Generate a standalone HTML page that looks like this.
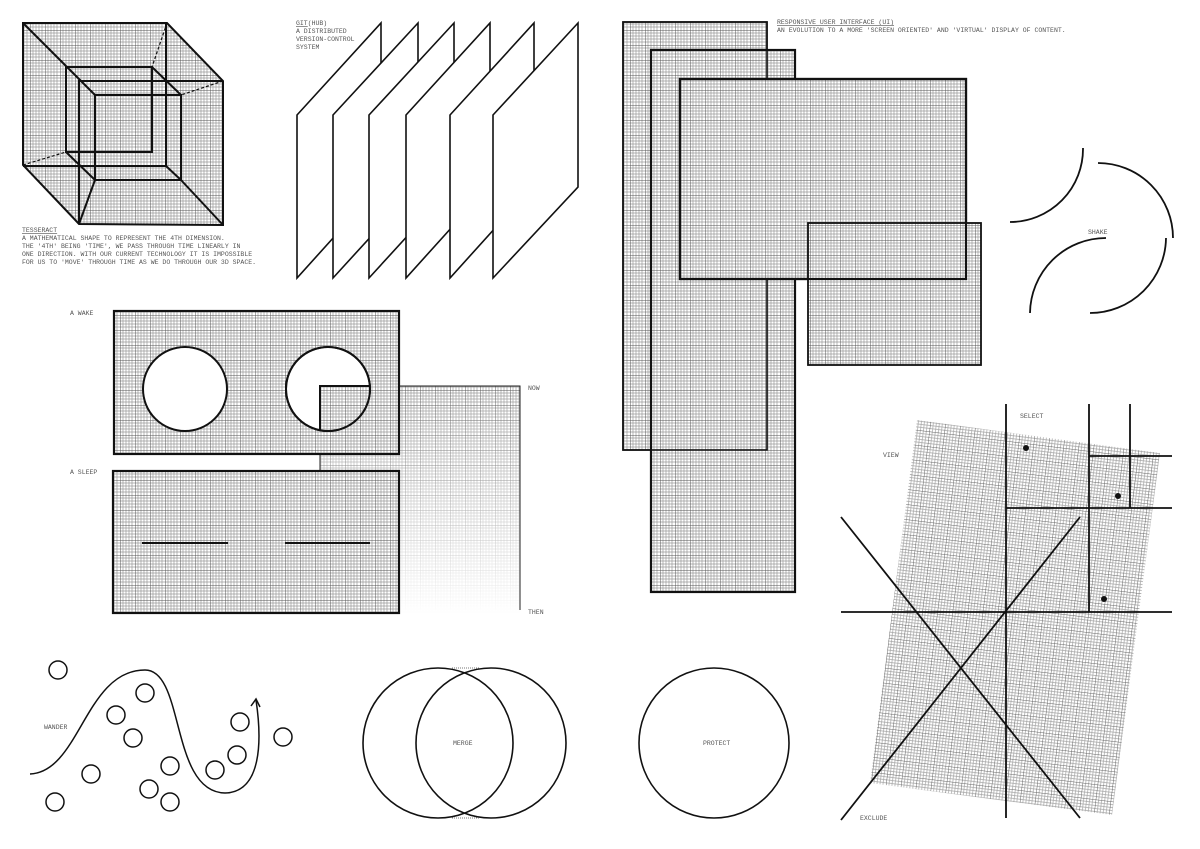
<!DOCTYPE html>
<html><head><meta charset="utf-8"><style>
html,body{margin:0;padding:0;background:#fff;}
svg{display:block;}
text{font-family:"Liberation Mono",monospace;font-size:6.5px;fill:#555;}
</style></head><body>
<svg width="1200" height="849" viewBox="0 0 1200 849" xmlns="http://www.w3.org/2000/svg">
<defs>
<pattern id="g" width="15" height="15" patternUnits="userSpaceOnUse">
<rect width="15" height="15" fill="#fff"/>
<path d="M3 0V15M6 0V15M9 0V15M12 0V15M0 3H15M0 6H15M0 9H15M0 12H15" stroke="#9a9a9a" stroke-width="0.7"/>
<path d="M0 0V15M0 0H15" stroke="#555" stroke-width="1"/>
</pattern>
<pattern id="gt" width="15" height="15" patternUnits="userSpaceOnUse" patternTransform="rotate(7)">
<rect width="15" height="15" fill="#fff"/>
<path d="M3 0V15M6 0V15M9 0V15M12 0V15M0 3H15M0 6H15M0 9H15M0 12H15" stroke="#a5a5a5" stroke-width="0.7"/>
<path d="M0 0V15M0 0H15" stroke="#666" stroke-width="1"/>
</pattern>
<linearGradient id="fade" x1="0" y1="0" x2="0" y2="1">
<stop offset="0" stop-color="#fff" stop-opacity="0"/>
<stop offset="1" stop-color="#fff" stop-opacity="1"/>
</linearGradient>
</defs>

<!-- Tesseract -->
<polygon points="23,23 167,23 223,81 223,225 79,224 23,165" fill="url(#g)"/>
<g fill="none" stroke="#111" stroke-width="2">
<path d="M23 23H167L223 81V225L79 224L23 165Z"/>
<path d="M166 23V166H23"/>
<path d="M79 224V81H223"/>
<path d="M23 23L95 95M166 166L181 180M79 224L95 180M223 225L181 180"/>
<rect x="66" y="67" width="86" height="85"/>
<rect x="95" y="95" width="86" height="85"/>
<path d="M152 67L181 95M66 152L95 180"/>
</g>
<g fill="none" stroke="#111" stroke-width="1.2" stroke-dasharray="3 2">
<path d="M167 23L152 67M223 81L181 95M23 165L66 152"/>
</g>
<text x="22" y="232" text-decoration="underline">TESSERACT</text>
<text x="22" y="240">A MATHEMATICAL SHAPE TO REPRESENT THE 4TH DIMENSION.</text>
<text x="22" y="248">THE '4TH' BEING 'TIME', WE PASS THROUGH TIME LINEARLY IN</text>
<text x="22" y="256">ONE DIRECTION. WITH OUR CURRENT TECHNOLOGY IT IS IMPOSSIBLE</text>
<text x="22" y="264">FOR US TO 'MOVE' THROUGH TIME AS WE DO THROUGH OUR 3D SPACE.</text>

<!-- Git planes -->
<text x="296" y="25"><tspan text-decoration="underline">GIT</tspan>(HUB)</text>
<text x="296" y="33">A DISTRIBUTED</text>
<text x="296" y="41">VERSION-CONTROL</text>
<text x="296" y="49">SYSTEM</text>
<g fill="#fff" stroke="#111" stroke-width="1.6">
<polygon points="297,115 381,23 381,185 297,278"/>
<polygon points="333,115 418,23 418,185 333,278"/>
<polygon points="369,115 454,23 454,185 369,278"/>
<polygon points="406,115 490,23 490,185 406,278"/>
<polygon points="450,115 534,23 534,185 450,278"/>
<polygon points="493,115 578,23 578,187 493,278"/>
</g>

<!-- UI rects -->
<rect x="623" y="22" width="144" height="428" fill="url(#g)" stroke="#111" stroke-width="1.6"/>
<rect x="651" y="50" width="144" height="542" fill="url(#g)" stroke="#111" stroke-width="2.2"/>
<rect x="623" y="22" width="144" height="428" fill="none" stroke="#111" stroke-width="1.6"/>
<rect x="680" y="79" width="286" height="200" fill="url(#g)" stroke="#111" stroke-width="2.2"/>
<rect x="808" y="223" width="173" height="142" fill="url(#g)" stroke="#111" stroke-width="1.8"/>
<rect x="680" y="79" width="286" height="200" fill="none" stroke="#111" stroke-width="2.2"/>
<text x="777" y="24" text-decoration="underline">RESPONSIVE USER INTERFACE (UI)</text>
<text x="777" y="32">AN EVOLUTION TO A MORE 'SCREEN ORIENTED' AND 'VIRTUAL' DISPLAY OF CONTENT.</text>

<!-- Shake -->
<g fill="none" stroke="#111" stroke-width="1.8">
<path d="M1083 148A73 73 0 0 1 1010 222"/>
<path d="M1098 163A75 75 0 0 1 1173 238"/>
<path d="M1106 238A76 76 0 0 0 1030 313"/>
<path d="M1166 238A76 76 0 0 1 1090 313"/>
</g>
<text x="1088" y="234">SHAKE</text>

<!-- Awake / sleep -->
<rect x="320" y="386" width="200" height="228" fill="url(#g)"/>
<rect x="320" y="386" width="200" height="228" fill="url(#fade)"/>
<path d="M320 470V386H520V610" fill="none" stroke="#222" stroke-width="1"/>
<rect x="114" y="311" width="285" height="143" fill="url(#g)" stroke="#111" stroke-width="2.2"/>
<circle cx="185" cy="389" r="42" fill="#fff" stroke="#111" stroke-width="2"/>
<circle cx="328" cy="389" r="42" fill="#fff" stroke="#111" stroke-width="2"/>
<clipPath id="cc"><circle cx="328" cy="389" r="42"/></clipPath>
<rect x="320" y="386" width="60" height="60" fill="url(#g)" clip-path="url(#cc)"/>
<path d="M320 431V386H370" fill="none" stroke="#111" stroke-width="2"/>
<circle cx="328" cy="389" r="42" fill="none" stroke="#111" stroke-width="2"/>
<rect x="113" y="471" width="286" height="142" fill="url(#g)" stroke="#111" stroke-width="2.2"/>
<path d="M142 543H228M285 543H370" stroke="#111" stroke-width="2"/>
<text x="70" y="315">A WAKE</text>
<text x="70" y="474">A SLEEP</text>
<text x="528" y="390">NOW</text>
<text x="528" y="614">THEN</text>

<!-- Wander -->
<g fill="none" stroke="#111" stroke-width="1.5">
<circle cx="58" cy="670" r="9"/><circle cx="145" cy="693" r="9"/><circle cx="116" cy="715" r="9"/>
<circle cx="133" cy="738" r="9"/><circle cx="91" cy="774" r="9"/><circle cx="55" cy="802" r="9"/>
<circle cx="170" cy="766" r="9"/><circle cx="149" cy="789" r="9"/><circle cx="170" cy="802" r="9"/>
<circle cx="215" cy="770" r="9"/><circle cx="240" cy="722" r="9"/><circle cx="237" cy="755" r="9"/>
<circle cx="283" cy="737" r="9"/>
<path d="M30 774C80 772,85 670,145 670C185 670,170 792,225 793C262 792,262 740,256 700"/>
<path d="M251 706L256 699L260 707"/>
</g>
<text x="44" y="729">WANDER</text>

<!-- Merge / protect -->
<g fill="none" stroke="#111" stroke-width="1.6">
<circle cx="438" cy="743" r="75"/>
<circle cx="491" cy="743" r="75"/>
<circle cx="714" cy="743" r="75"/>
</g>
<path d="M452 668H480M452 818H480" stroke="#777" stroke-width="1" stroke-dasharray="1 1"/>
<text x="453" y="745">MERGE</text>
<text x="703" y="745">PROTECT</text>

<!-- Right panel -->
<polygon points="917,420 1160,453 1112,815 870,783" fill="url(#gt)"/>
<g stroke="#111" stroke-width="1.8" fill="none">
<path d="M1006 404V818M841 612H1172M841 517L1080 818M841 820L1080 517"/>
<path d="M1089 404V612M1130 404V508M1006 508H1172M1089 456H1172"/>
</g>
<circle cx="1026" cy="448" r="3" fill="#111"/>
<circle cx="1118" cy="496" r="3" fill="#111"/>
<circle cx="1104" cy="599" r="3" fill="#111"/>
<text x="1020" y="418">SELECT</text>
<text x="883" y="457">VIEW</text>
<text x="860" y="820">EXCLUDE</text>
</svg>
</body></html>
